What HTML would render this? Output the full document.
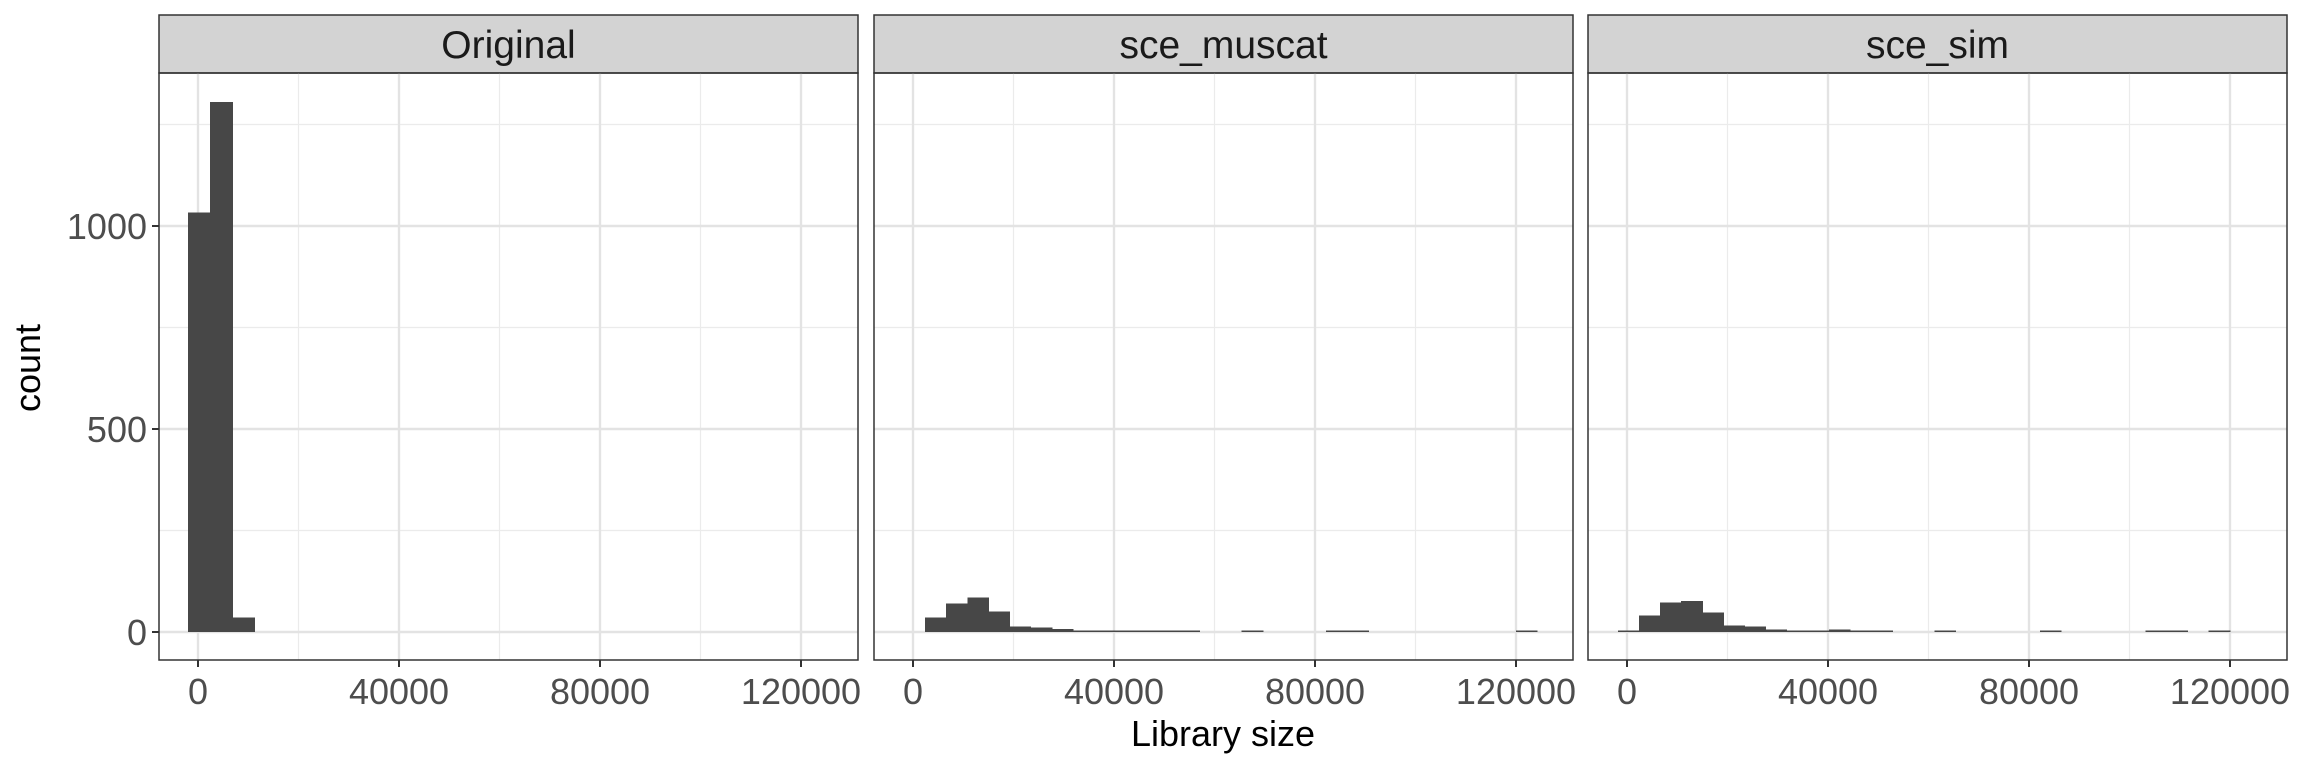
<!DOCTYPE html>
<html><head><meta charset="utf-8"><style>
body{margin:0;background:#fff;}
svg text{font-family:"Liberation Sans",Arial,sans-serif;}
</style></head><body>
<svg id="chart" width="2304" height="768" xmlns="http://www.w3.org/2000/svg"></svg>
<script>
const panelNames = ["Original","sce_muscat","sce_sim"];
const binStarts = [-2000, 2400, -1830];
const binWidths = [4400, 4200, 4200];
const countsOriginal = [1033,1306,36];
const countsMuscat = [36,70,85,50,13,11,8,3,3,3,2,2,1,0,0,1,0,0,0,1,1,0,0,0,0,0,0,0,1];
const countsSim = [1,41,73,76,48,16,13,6,1,4,6,3,3,0,0,1,0,0,0,0,1,0,0,0,0,1,1,0,1];
const xTicks = [0,40000,80000,120000];
const xMinor = [20000,60000,100000];
const yTicks = [0,500,1000];
const yMinor = [250,750,1250];
const allCounts = [countsOriginal,countsMuscat,countsSim];

const svg = document.getElementById('chart');
const NS = "http://www.w3.org/2000/svg";
function mk(tag, attrs, parent){const e=document.createElementNS(NS,tag);for(const k in attrs)e.setAttribute(k,attrs[k]);(parent||svg).appendChild(e);return e;}
const panelLeft=[159,874,1588], panelW=699, stripTop=15, stripBot=73, panelBot=660;
const zeroOffset=39, pxPer=201/40000;
function xs(p,v){return panelLeft[p]+zeroOffset+v*pxPer;}
function ys(v){return 632-v*0.406;}

for(let p=0;p<3;p++){
  const g=mk('g',{});
  
  
  const L=panelLeft[p], R=L+panelW;
  const st=mk('rect',{x:L,y:stripTop,width:panelW,height:stripBot-stripTop,fill:'#d3d3d3',stroke:'#333','stroke-width':1.5},g);
  
  
  const tt=mk('text',{x:L+panelW/2,y:stripTop+43,'text-anchor':'middle','font-size':39,fill:'#1a1a1a'},g);
  tt.textContent=panelNames[p];
  
  
  for(const v of yMinor){const l=mk('line',{x1:L,x2:R,y1:ys(v),y2:ys(v),stroke:'#ebebeb','stroke-width':1.2},g);}
  for(const v of xMinor){const l=mk('line',{x1:xs(p,v),x2:xs(p,v),y1:stripBot,y2:panelBot,stroke:'#ebebeb','stroke-width':1.2},g);}
  for(const v of yTicks){const l=mk('line',{x1:L,x2:R,y1:ys(v),y2:ys(v),stroke:'#e3e3e3','stroke-width':2.4},g);}
  for(const v of xTicks){const l=mk('line',{x1:xs(p,v),x2:xs(p,v),y1:stripBot,y2:panelBot,stroke:'#e3e3e3','stroke-width':2.4},g);}
  const counts=allCounts[p];
  counts.forEach((c,i)=>{
    if(c<=0)return;
    const x0=xs(p,binStarts[p]+i*binWidths[p]), x1=xs(p,binStarts[p]+(i+1)*binWidths[p]);
    const h=Math.max(ys(0)-ys(c),1.5);
    const b=mk('rect',{x:x0,y:ys(0)-h,width:x1-x0+0.6,height:h,fill:'#474747','shape-rendering':'crispEdges'},g);
    
    
  });
  const border=mk('rect',{x:L,y:stripBot,width:panelW,height:panelBot-stripBot,fill:'none',stroke:'#333','stroke-width':1.5},g);
  
  
  for(const v of xTicks){
    const t=mk('line',{x1:xs(p,v),x2:xs(p,v),y1:panelBot,y2:panelBot+7,stroke:'#333','stroke-width':2},g);
    
    const lb=mk('text',{x:xs(p,v),y:panelBot+44,'text-anchor':'middle','font-size':36,fill:'#4d4d4d'},g);
    lb.textContent=v;
    
  }
  if(p===0){
    for(const v of yTicks){
      const t=mk('line',{x1:L-7,x2:L,y1:ys(v),y2:ys(v),stroke:'#333','stroke-width':2},g);
      
      const lb=mk('text',{x:L-12,y:ys(v)+13,'text-anchor':'end','font-size':36,fill:'#4d4d4d'},g);
      lb.textContent=v;
      
    }
  }
}
const xt=mk('text',{x:1223,y:746,'text-anchor':'middle','font-size':36,fill:'#000'});
xt.textContent='Library size';

const yt=mk('text',{x:0,y:0,'text-anchor':'middle','font-size':36,fill:'#000',transform:'translate(40,368) rotate(-90)'});
yt.textContent='count';

</script>
</body></html>
